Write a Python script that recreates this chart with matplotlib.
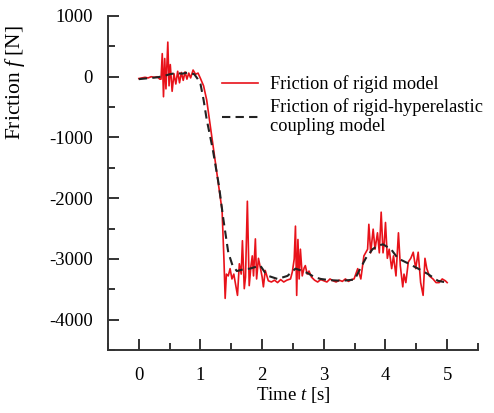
import numpy as np
import matplotlib
matplotlib.use('Agg')
import matplotlib.pyplot as plt
from matplotlib.ticker import MultipleLocator

# friction of rigid model (red, noisy)
t_rigid = [0, 0.05, 0.1, 0.15, 0.2, 0.25, 0.3, 0.34, 0.36, 0.38, 0.40, 0.42, 0.44, 0.47,
           0.49, 0.51, 0.54, 0.57, 0.60, 0.63, 0.66, 0.69, 0.72, 0.75, 0.78, 0.81, 0.84,
           0.88, 0.92, 0.96, 1.0, 1.05, 1.1, 1.35, 1.38, 1.40, 1.42, 1.45, 1.48, 1.51,
           1.54, 1.57, 1.60, 1.63, 1.66, 1.68, 1.71, 1.73, 1.76, 1.79, 1.82, 1.84, 1.86,
           1.89, 1.91, 1.94, 1.97, 2.0, 2.02, 2.05, 2.1, 2.15, 2.2, 2.25, 2.3, 2.35, 2.4,
           2.46, 2.49, 2.52, 2.54, 2.56, 2.58, 2.60, 2.62, 2.65, 2.68, 2.70, 2.73, 2.76,
           2.8, 2.85, 2.9, 2.95, 3.0, 3.05, 3.1, 3.15, 3.2, 3.25, 3.3, 3.35, 3.4, 3.45,
           3.49, 3.55, 3.6, 3.65, 3.71, 3.73, 3.76, 3.80, 3.83, 3.87, 3.90, 3.93, 3.96,
           3.98, 4.0, 4.03, 4.06, 4.1, 4.13, 4.17, 4.21, 4.24, 4.28, 4.30, 4.33, 4.37,
           4.41, 4.45, 4.49, 4.53, 4.57, 4.61, 4.64, 4.67, 4.71, 4.77, 4.82, 4.87, 4.92,
           4.97, 5.0]
f_rigid = [-30, -20, -10, -20, 0, -10, 0, -40, -40, 380, -330, 300, -200, 570,
           -150, 200, -240, 50, -120, 90, -100, 70, -60, 80, -40, 60, -20,
           110, 40, 60, -30, -150, -380, -2200, -3000, -3650, -3250, -3280, -3160, -3330,
           -3250, -3420, -3600, -3080, -3250, -2700, -3490, -3300, -2050, -3440, -3100, -2950, -3280,
           -2670, -3330, -2990, -3140, -3300, -3460, -3190, -3360, -3380, -3350, -3390, -3340, -3380, -3350,
           -3330, -3210, -3000, -2460, -3600, -2680, -3330, -2840, -3280, -3150, -3110, -3250, -3200,
           -3300, -3350, -3380, -3340, -3360, -3380, -3330, -3360, -3380, -3350, -3370, -3330, -3370, -3340,
           -3330, -3160, -3330, -2950, -2840, -2430, -2900, -2510, -2840, -2570, -2900, -2230, -2900,
           -2730, -2400, -2990, -2840, -3160, -2950, -3280, -2570, -3110, -3460, -3250, -3390, -3050,
           -2990, -2890, -3160, -2890, -3390, -3600, -2990, -3160, -3280, -3330, -3390, -3390, -3330,
           -3360, -3390]

# friction of rigid-hyperelastic coupling model (black dashed)
t_coup = [0, 0.1, 0.2, 0.3, 0.4, 0.5, 0.6, 0.7, 0.8, 0.9, 0.95, 1.0, 1.05, 1.1, 1.2, 1.3,
          1.37, 1.45, 1.52, 1.59, 1.7, 1.8, 1.9, 1.97, 2.05, 2.1, 2.25, 2.41, 2.54, 2.63,
          2.73, 2.85, 2.95, 3.1, 3.3, 3.5, 3.57, 3.68, 3.79, 3.88, 3.96, 4.09, 4.2, 4.36,
          4.53, 4.69, 4.85, 5.0]
f_coup = [-40, -30, -20, -10, 10, 40, 60, 50, 70, 40, -30, -120, -380, -700, -1200, -1800,
          -2340, -2890, -3110, -3200, -3170, -3160, -3130, -3110, -3230, -3280, -3330, -3280, -3160, -3190,
          -3230, -3300, -3330, -3350, -3360, -3340, -3200, -2990, -2840, -2780, -2760, -2840, -2990, -3070,
          -3160, -3250, -3360, -3390]

plt.rcParams['font.family'] = ['Liberation Serif', 'DejaVu Serif']
plt.rcParams['mathtext.fontset'] = 'custom'
plt.rcParams['mathtext.it'] = 'Liberation Serif:italic'
plt.rcParams['mathtext.rm'] = 'Liberation Serif'

fig = plt.figure(figsize=(4.94, 4.13), dpi=100)
ax = fig.add_axes([0.2186, 0.1525, 0.749, 0.8088])

ax.plot(t_rigid, f_rigid, color='#e8121a', lw=1.2, label='Friction of rigid model')
ax.plot(t_coup, f_coup, color='#222222', lw=1.5, ls=(0, (4, 2.5)),
        label='Friction of rigid-hyperelastic\ncoupling model')

ax.set_xlim(-0.5, 5.5)
ax.set_ylim(-4500, 1000)
ax.spines['top'].set_visible(False)
ax.spines['right'].set_visible(False)
for s in ['left', 'bottom']:
    ax.spines[s].set_linewidth(1.4)
    ax.spines[s].set_color('#333333')

ax.xaxis.set_major_locator(MultipleLocator(1))
ax.xaxis.set_minor_locator(MultipleLocator(0.5))
ax.yaxis.set_major_locator(MultipleLocator(1000))
ax.yaxis.set_minor_locator(MultipleLocator(500))
ax.tick_params(which='both', direction='in', color='#333333', width=1.4)
ax.tick_params(which='major', length=8, labelsize=13.5)
ax.tick_params(which='minor', length=5)
ax.tick_params(axis='x', which='major', pad=12)
ax.tick_params(axis='y', which='major', pad=11)
ax.set_xticks([0, 1, 2, 3, 4, 5])
ax.set_yticks([1000, 0, -1000, -2000, -3000, -4000])
ax.set_yticklabels(['1000', '0', '-1000', '-2000', '-3000', '-4000'])

ax.set_xlabel('Time $t$ [s]', fontsize=13.5, labelpad=1)
ax.set_ylabel('Friction $f$ [N]', fontsize=15.5)
ax.yaxis.set_label_coords(-0.218, 0.80)

ax.legend(loc='upper left', bbox_to_anchor=(0.283, 0.85), frameon=False, fontsize=13.2,
          handlelength=1.95, handletextpad=0.67, labelspacing=0.26, borderpad=0)

plt.savefig('out.png', dpi=100)
plt.close()
